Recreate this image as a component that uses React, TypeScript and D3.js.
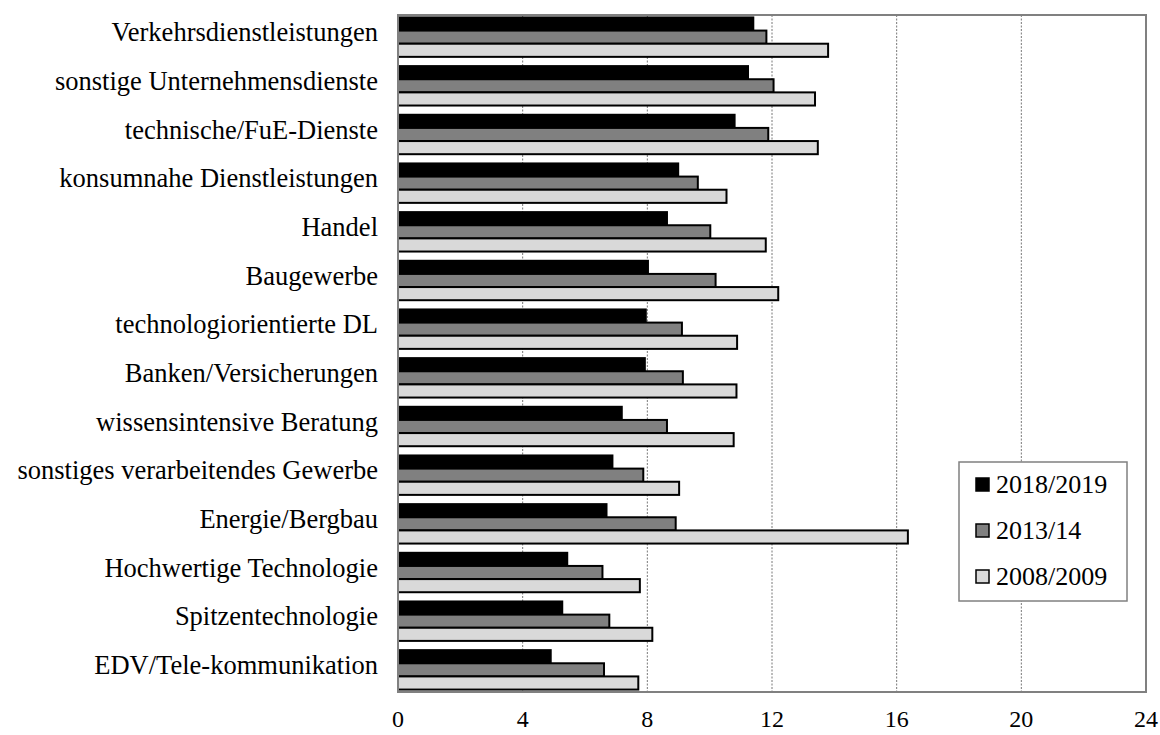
import * as d3 from "d3";

const categories = [
  "Verkehrsdienstleistungen",
  "sonstige Unternehmensdienste",
  "technische/FuE-Dienste",
  "konsumnahe Dienstleistungen",
  "Handel",
  "Baugewerbe",
  "technologiorientierte DL",
  "Banken/Versicherungen",
  "wissensintensive Beratung",
  "sonstiges verarbeitendes Gewerbe",
  "Energie/Bergbau",
  "Hochwertige Technologie",
  "Spitzentechnologie",
  "EDV/Tele-kommunikation",
];
const series = ["2018/2019", "2013/14", "2008/2009"];
const v2018 = [11.4, 11.23, 10.8, 8.99, 8.63, 8.02, 7.95, 7.92, 7.18, 6.88, 6.69, 5.43, 5.27, 4.9];
const v2013 = [11.82, 12.05, 11.88, 9.62, 10.02, 10.19, 9.11, 9.14, 8.63, 7.87, 8.91, 6.56, 6.78, 6.61];
const v2008 = [13.8, 13.38, 13.47, 10.54, 11.8, 12.2, 10.88, 10.86, 10.77, 9.02, 16.36, 7.76, 8.16, 7.71];
const ticks = [0, 4, 8, 12, 16, 20, 24];
const colors = ["#000000", "#808080", "#d9d9d9"];

const W = 1160;
const H = 735;
const M = { left: 398, right: 14, top: 15, bottom: 43 };

export default function App() {
  const values = [v2018, v2013, v2008];
  const x = d3.scaleLinear().domain([0, 24]).range([M.left, W - M.right]);
  const y = d3
    .scaleBand<string>()
    .domain(categories)
    .range([M.top, H - M.bottom])
    .paddingInner(0.19)
    .paddingOuter(0.05);
  const sub = d3.scaleBand<number>().domain([0, 1, 2]).range([0, y.bandwidth()]);
  const font = "'Liberation Serif', 'Times New Roman', serif";

  return (
    <svg
      width={W}
      height={H}
      style={{ position: "absolute", left: 0, top: 0, background: "#fff" }}
      fontFamily={font}
    >
      {ticks.slice(1, -1).map((t) => (
        <line
          key={t}
          x1={x(t)}
          x2={x(t)}
          y1={M.top}
          y2={H - M.bottom}
          stroke="#555"
          strokeWidth={0.8}
          strokeDasharray="2,1.5"
        />
      ))}
      {categories.map((c, i) => (
        <g key={c}>
          {values.map((vals, s) => (
            <rect
              key={s}
              x={x(0)}
              y={(y(c) as number) + (sub(s) as number)}
              width={x(vals[i]) - x(0)}
              height={sub.bandwidth()}
              fill={colors[s]}
              stroke="#000"
              strokeWidth={2}
            />
          ))}
          <text
            x={378}
            y={(y(c) as number) + y.bandwidth() / 2 - 2}
            textAnchor="end"
            dominantBaseline="middle"
            fontSize={26.5}
          >
            {c}
          </text>
        </g>
      ))}
      <rect
        x={M.left}
        y={M.top}
        width={W - M.right - M.left}
        height={H - M.bottom - M.top}
        fill="none"
        stroke="#808080"
        strokeWidth={2}
      />
      {ticks.map((t) => (
        <text key={t} x={x(t)} y={727} textAnchor="middle" fontSize={24}>
          {t}
        </text>
      ))}
      <g transform="translate(959,462)">
        <rect width={168} height={139} fill="#fff" stroke="#808080" strokeWidth={1.5} />
        {series.map((s, i) => (
          <g key={s} transform={`translate(17,${16 + i * 46})`}>
            <rect width={13} height={13} fill={colors[i]} stroke="#000" strokeWidth={1.5} />
            <text x={20} y={15} fontSize={26}>
              {s}
            </text>
          </g>
        ))}
      </g>
    </svg>
  );
}
